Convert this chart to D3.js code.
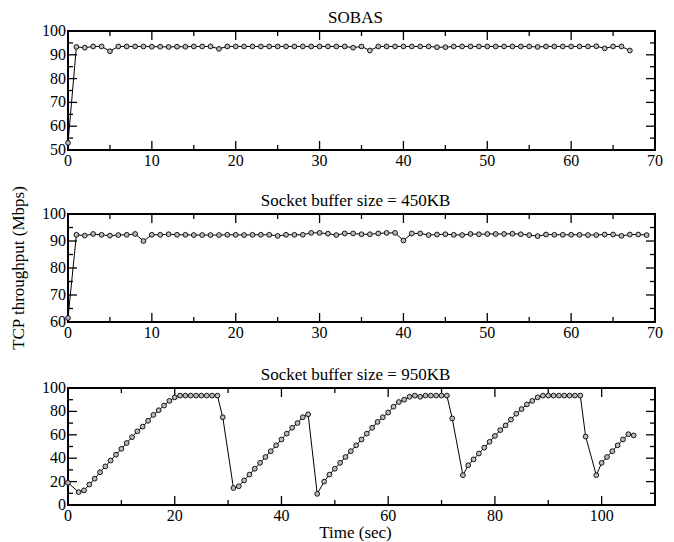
<!DOCTYPE html>
<html>
<head>
<meta charset="utf-8">
<script src="https://cdn.jsdelivr.net/npm/d3@7"></script>
<style>
  body { margin: 0; background: #fff; }
  svg text { font-family: 'Liberation Serif', 'Times New Roman', Times, 'DejaVu Serif', serif; fill: #000; }
</style>
</head>
<body>
<svg id="chart" width="674" height="542"></svg>
<script>
// ---- data: [time (sec), throughput (Mbps)] ----
const sobas = [
  [0, 53], [1, 93.3], [2, 93], [3, 93.5], [4, 93.5], [5, 91.5], [6, 93.5], [7, 93.5], [8, 93.5], [9, 93.5],
  [10, 93.4], [11, 93.4], [12, 93.3], [13, 93.4], [14, 93.4], [15, 93.5], [16, 93.5], [17, 93.5], [18, 92.5], [19, 93.5],
  [20, 93.5], [21, 93.5], [22, 93.5], [23, 93.5], [24, 93.5], [25, 93.5], [26, 93.5], [27, 93.5], [28, 93.5], [29, 93.5],
  [30, 93.5], [31, 93.5], [32, 93.5], [33, 93.5], [34, 93], [35, 93.5], [36, 91.8], [37, 93.5], [38, 93.5], [39, 93.5],
  [40, 93.5], [41, 93.5], [42, 93.5], [43, 93.5], [44, 93.2], [45, 93.2], [46, 93.5], [47, 93.5], [48, 93.5], [49, 93.5],
  [50, 93.5], [51, 93.5], [52, 93.5], [53, 93.5], [54, 93.5], [55, 93.5], [56, 93.3], [57, 93.5], [58, 93.5], [59, 93.5],
  [60, 93.5], [61, 93.5], [62, 93.5], [63, 93.6], [64, 92.7], [65, 93.5], [66, 93.5], [67, 91.8]
];
const buf450 = [
  [0, 61.5], [1, 92.3], [2, 92], [3, 92.6], [4, 92.3], [5, 92], [6, 92.2], [7, 92.3], [8, 92.6], [9, 90],
  [10, 92.3], [11, 92.3], [12, 92.5], [13, 92.3], [14, 92.3], [15, 92.2], [16, 92.2], [17, 92.2], [18, 92.2], [19, 92.3],
  [20, 92.3], [21, 92.2], [22, 92.3], [23, 92.3], [24, 92.3], [25, 91.9], [26, 92.3], [27, 92.3], [28, 92.3], [29, 93],
  [30, 93], [31, 92.7], [32, 92.2], [33, 92.8], [34, 92.8], [35, 92.5], [36, 92.5], [37, 92.8], [38, 93], [39, 93],
  [40, 90.2], [41, 92.8], [42, 92.8], [43, 92.2], [44, 92.4], [45, 92.5], [46, 92.3], [47, 92.2], [48, 92.6], [49, 92.5],
  [50, 92.6], [51, 92.6], [52, 92.6], [53, 92.7], [54, 92.5], [55, 92.2], [56, 91.8], [57, 92.4], [58, 92.3], [59, 92.3],
  [60, 92.3], [61, 92.3], [62, 92.2], [63, 92.2], [64, 92.4], [65, 92.4], [66, 91.9], [67, 92.4], [68, 92.4], [69, 92.2]
];
const buf950 = [
  [0, 19], [2, 11], [3, 12.5], [4, 17.5], [5, 22.5], [6, 28], [7, 33], [8, 38], [9, 43], [10, 48],
  [11, 53], [12, 58], [13, 63], [14, 67], [15, 72], [16, 77], [17, 81], [18, 85], [19, 89], [20, 92],
  [21, 93.5], [22, 93.5], [23, 93.5], [24, 93.5], [25, 93.5], [26, 93.5], [27, 93.5], [28, 93.5], [29, 75],
  [31, 14.5], [32, 16], [33, 21], [34, 26], [35, 31], [36, 36], [37, 41], [38, 46], [39, 51], [40, 56],
  [41, 61], [42, 66], [43, 70], [44, 75], [45, 77.5], [46.7, 9.5], [48, 20], [49, 26], [50, 31], [51, 36],
  [52, 41], [53, 46], [54, 51], [55, 56], [56, 61], [57, 66], [58, 71], [59, 75], [60, 79], [61, 84],
  [62, 88], [63, 90], [64, 92.5], [65, 93.5], [66, 92.5], [67, 93.5], [68, 93.5], [69, 93.5], [70, 93.5], [71, 93.5],
  [72, 74], [74, 25.5], [75, 34], [76, 39], [77, 44], [78, 49], [79, 54], [80, 59], [81, 64], [82, 68],
  [83, 73], [84, 78], [85, 82], [86, 86], [87, 89], [88, 92], [89, 93.5], [90, 93.5], [91, 93.5], [92, 93.5],
  [93, 93.5], [94, 93.5], [95, 93.5], [96, 93.5], [97, 58.5], [99, 25.5], [100, 36], [101, 41], [102, 46], [103, 51],
  [104, 56], [105, 60.5], [106, 59.5]
];

const titles = ["SOBAS", "Socket buffer size = 450KB", "Socket buffer size = 950KB"];

const panels = [
  { title: titles[0], data: sobas, xDom: [0, 70], yDom: [50, 100], top: 31, bottom: 150, xMaj: 10, yMaj: 10 },
  { title: titles[1], data: buf450, xDom: [0, 70], yDom: [60, 100], top: 214, bottom: 322, xMaj: 10, yMaj: 10 },
  { title: titles[2], data: buf950, xDom: [0, 110], yDom: [0, 100], top: 388, bottom: 505, xMaj: 20, yMaj: 20 }
];

const left = 68, right = 655;
const svg = d3.select('#chart');
const serif = "'Liberation Serif', 'Times New Roman', Times, 'DejaVu Serif', serif";

panels.forEach((p) => {
  const x = d3.scaleLinear().domain(p.xDom).range([left, right]);
  const y = d3.scaleLinear().domain(p.yDom).range([p.bottom, p.top]);
  const g = svg.append('g');

  const xMajor = d3.range(p.xDom[0], p.xDom[1] + 0.001, p.xMaj);
  const xMinor = d3.range(p.xDom[0] + p.xMaj / 2, p.xDom[1], p.xMaj);
  const yMajor = d3.range(p.yDom[0], p.yDom[1] + 0.001, p.yMaj);
  const yMinor = d3.range(p.yDom[0] + p.yMaj / 2, p.yDom[1], p.yMaj);

  // ticks inward on all four sides
  const tick = (vals, len, horiz) => {
    vals.forEach((v) => {
      if (horiz) {
        g.append('line').attr('x1', x(v)).attr('x2', x(v)).attr('y1', p.bottom).attr('y2', p.bottom - len);
        g.append('line').attr('x1', x(v)).attr('x2', x(v)).attr('y1', p.top).attr('y2', p.top + len);
      } else {
        g.append('line').attr('y1', y(v)).attr('y2', y(v)).attr('x1', left).attr('x2', left + len);
        g.append('line').attr('y1', y(v)).attr('y2', y(v)).attr('x1', right).attr('x2', right - len);
      }
    });
  };
  tick(xMajor, 9, true);
  tick(xMinor, 5, true);
  tick(yMajor, 9, false);
  tick(yMinor, 5, false);
  g.selectAll('line').attr('stroke', '#000').attr('stroke-width', 1.3);

  g.append('rect')
    .attr('x', left).attr('y', p.top)
    .attr('width', right - left).attr('height', p.bottom - p.top)
    .attr('fill', 'none').attr('stroke', '#000').attr('stroke-width', 2);

  // tick labels
  g.selectAll('text.xl').data(xMajor).join('text')
    .attr('x', (d) => x(d)).attr('y', p.bottom + 16)
    .attr('text-anchor', 'middle').attr('font-size', 16).attr('font-family', serif)
    .text((d) => d);
  g.selectAll('text.yl').data(yMajor).join('text')
    .attr('x', left - 2).attr('y', (d) => y(d) + 5)
    .attr('text-anchor', 'end').attr('font-size', 16).attr('font-family', serif)
    .text((d) => d);

  g.append('text')
    .attr('x', (left + right) / 2 - 6).attr('y', p.top - 8)
    .attr('text-anchor', 'middle').attr('font-size', 17).attr('font-family', serif)
    .text(p.title);

  const line = d3.line().x((d) => x(d[0])).y((d) => y(d[1]));
  g.append('path').datum(p.data)
    .attr('d', line).attr('fill', 'none').attr('stroke', '#000').attr('stroke-width', 1);

  g.selectAll('circle').data(p.data).join('circle')
    .attr('cx', (d) => x(d[0])).attr('cy', (d) => y(d[1]))
    .attr('r', 2.4).attr('fill', '#bbb').attr('stroke', '#000').attr('stroke-width', 0.9);
});

svg.append('text')
  .attr('transform', 'translate(24,268) rotate(-90)')
  .attr('text-anchor', 'middle').attr('font-size', 17).attr('font-family', serif)
  .text('TCP throughput (Mbps)');

svg.append('text')
  .attr('x', (left + right) / 2 - 6).attr('y', 538)
  .attr('text-anchor', 'middle').attr('font-size', 17).attr('font-family', serif)
  .text('Time (sec)');
</script>
</body>
</html>
